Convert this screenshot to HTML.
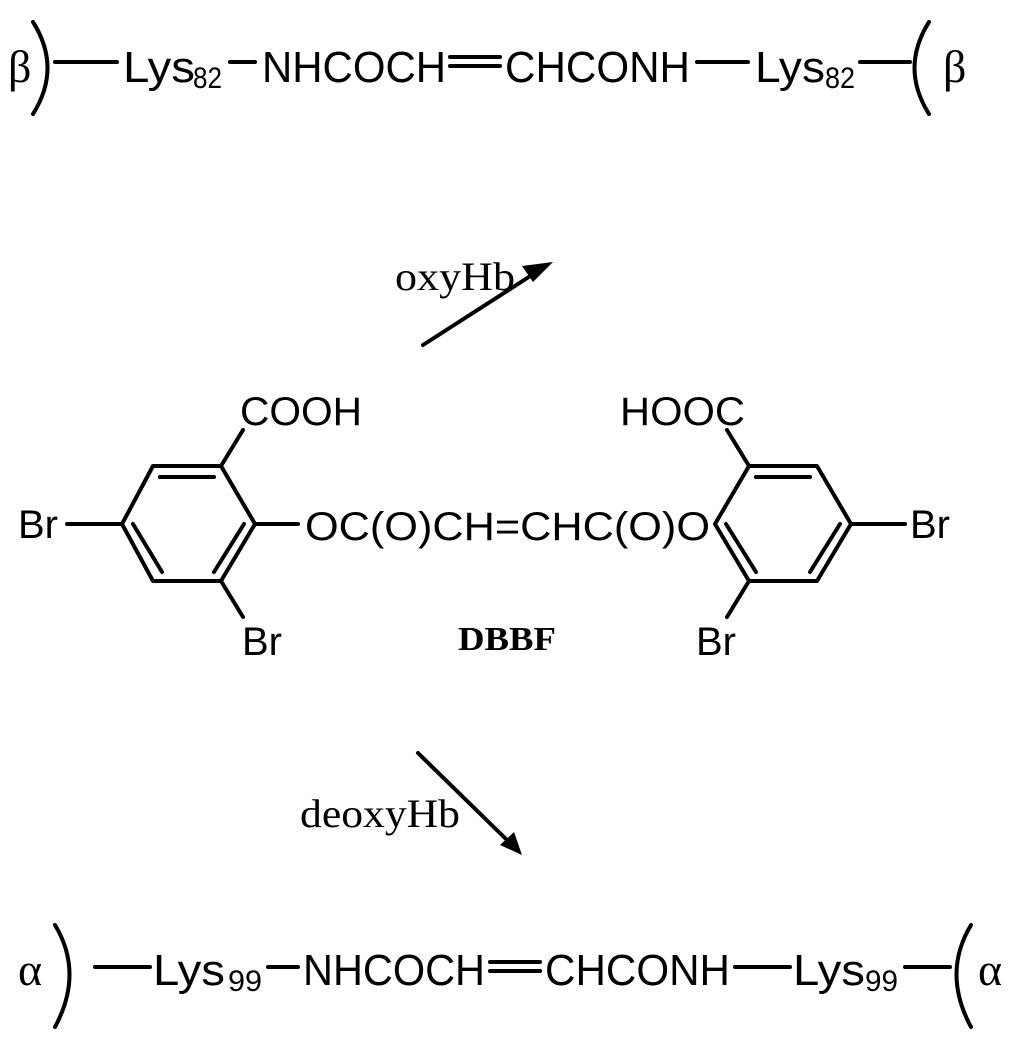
<!DOCTYPE html>
<html><head><meta charset="utf-8"><style>
html,body{margin:0;padding:0;background:#fff;}
svg{display:block;}
.s{font-family:"Liberation Sans",sans-serif;fill:#000;}
.r{font-family:"Liberation Serif",serif;fill:#000;}
</style></head><body>
<svg width="1024" height="1045" viewBox="0 0 1024 1045" xmlns="http://www.w3.org/2000/svg">
<g stroke="#000" stroke-width="4" fill="none" stroke-linecap="round">
<path d="M33,22 Q62,68 33,114"/>
<line x1="55" y1="62" x2="117" y2="62"/>
<line x1="230" y1="62" x2="255" y2="62"/>
<line x1="450" y1="57" x2="500" y2="57"/>
<line x1="450" y1="66" x2="500" y2="66"/>
<line x1="697" y1="62" x2="748" y2="62"/>
<line x1="860" y1="62" x2="910" y2="62"/>
<path d="M929,22 Q900,68 929,114"/>
<path d="M55,925 Q84,973 55,1027"/>
<line x1="95" y1="967" x2="150" y2="967"/>
<line x1="268" y1="967" x2="298" y2="967"/>
<line x1="490" y1="962" x2="540" y2="962"/>
<line x1="490" y1="971" x2="540" y2="971"/>
<line x1="735" y1="967" x2="790" y2="967"/>
<line x1="905" y1="967" x2="950" y2="967"/>
<path d="M971,925 Q942,973 971,1027"/>
<polygon points="153,466 221,466 255,524 221,581 153,581 122,524" stroke-linejoin="round"/>
<line x1="160" y1="477" x2="214" y2="477"/>
<line x1="244" y1="524" x2="214" y2="572"/>
<line x1="133" y1="524" x2="162" y2="572"/>
<line x1="221" y1="466" x2="243" y2="430"/>
<line x1="67" y1="524" x2="122" y2="524"/>
<line x1="255" y1="524" x2="298" y2="524"/>
<line x1="221" y1="581" x2="243" y2="617"/>
<polygon points="749,466 817,466 851,524 817,581 749,581 715,524" stroke-linejoin="round"/>
<line x1="756" y1="477" x2="810" y2="477"/>
<line x1="726" y1="524" x2="756" y2="572"/>
<line x1="840" y1="524" x2="810" y2="572"/>
<line x1="749" y1="466" x2="727" y2="430"/>
<line x1="851" y1="524" x2="905" y2="524"/>
<line x1="749" y1="581" x2="727" y2="617"/>
<line x1="423" y1="345" x2="535" y2="273"/>
<line x1="418" y1="753" x2="507" y2="840"/>
</g>
<polygon points="553,262 522,266 533,282" fill="#000"/>
<polygon points="522,855 500,845 514,832" fill="#000"/>

<text class="r" x="8" y="82" font-size="46">β</text>
<text class="s" x="123" y="82" font-size="44" textLength="72" lengthAdjust="spacingAndGlyphs">Lys</text>
<text class="s" x="193" y="88" font-size="30" textLength="29" lengthAdjust="spacingAndGlyphs">82</text>
<text class="s" x="262" y="82" font-size="44" textLength="184" lengthAdjust="spacingAndGlyphs">NHCOCH</text>
<text class="s" x="505" y="82" font-size="44" textLength="185" lengthAdjust="spacingAndGlyphs">CHCONH</text>
<text class="s" x="755" y="82" font-size="44" textLength="70" lengthAdjust="spacingAndGlyphs">Lys</text>
<text class="s" x="825" y="88" font-size="30" textLength="30" lengthAdjust="spacingAndGlyphs">82</text>
<text class="r" x="943" y="82" font-size="46">β</text>

<text class="r" x="18" y="985" font-size="46">α</text>
<text class="s" x="153" y="985" font-size="44" textLength="72" lengthAdjust="spacingAndGlyphs">Lys</text>
<text class="s" x="228" y="991" font-size="30" textLength="34" lengthAdjust="spacingAndGlyphs">99</text>
<text class="s" x="303" y="985" font-size="44" textLength="182" lengthAdjust="spacingAndGlyphs">NHCOCH</text>
<text class="s" x="545" y="985" font-size="44" textLength="185" lengthAdjust="spacingAndGlyphs">CHCONH</text>
<text class="s" x="793" y="985" font-size="44" textLength="72" lengthAdjust="spacingAndGlyphs">Lys</text>
<text class="s" x="865" y="991" font-size="30" textLength="33" lengthAdjust="spacingAndGlyphs">99</text>
<text class="r" x="978" y="985" font-size="46">α</text>

<text class="r" x="395" y="290" font-size="40" textLength="120" lengthAdjust="spacingAndGlyphs">oxyHb</text>
<text class="r" x="300" y="827" font-size="40" textLength="160" lengthAdjust="spacingAndGlyphs">deoxyHb</text>

<text class="s" x="240" y="425" font-size="40" textLength="122" lengthAdjust="spacingAndGlyphs">COOH</text>
<text class="s" x="620" y="425" font-size="40" textLength="125" lengthAdjust="spacingAndGlyphs">HOOC</text>
<text class="s" x="18" y="538" font-size="40">Br</text>
<text class="s" x="305" y="540" font-size="40" textLength="405" lengthAdjust="spacingAndGlyphs">OC(O)CH=CHC(O)O</text>
<text class="s" x="910" y="538" font-size="40">Br</text>
<text class="s" x="242" y="655" font-size="40">Br</text>
<text class="s" x="696" y="655" font-size="40">Br</text>
<text class="r" x="458" y="650" font-size="34" font-weight="bold" textLength="98" lengthAdjust="spacingAndGlyphs">DBBF</text>
</svg>
</body></html>
